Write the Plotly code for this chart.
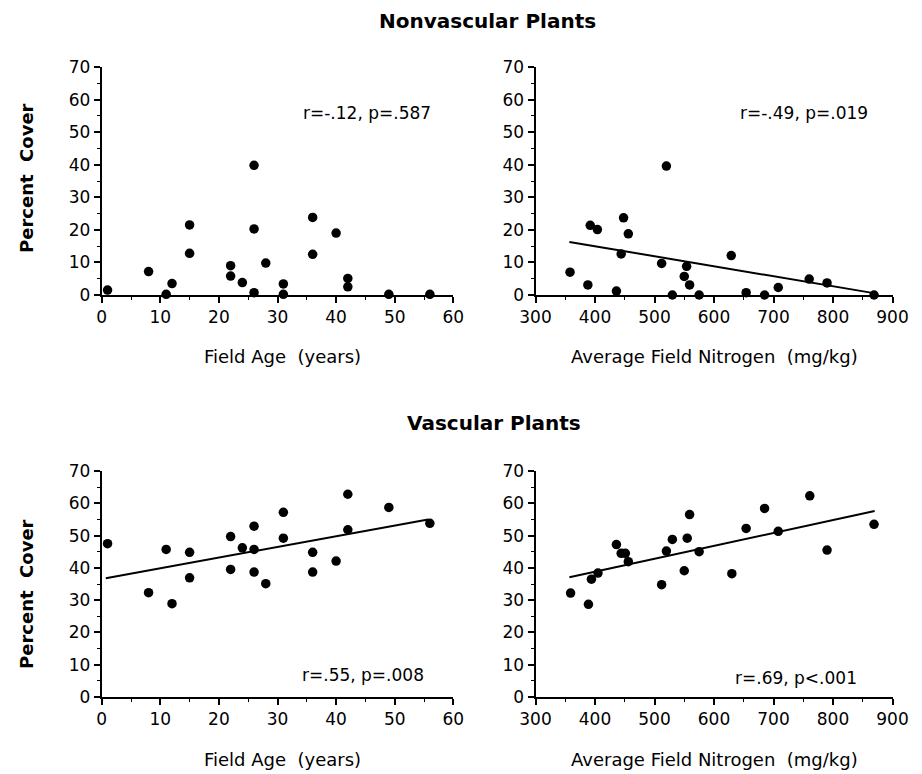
import plotly.graph_objects as go

# ---------------- data ----------------
field_age = [1, 8, 11, 12, 15, 15, 22, 22, 24, 26, 26, 26, 28, 31, 31, 36, 36, 40, 42, 42, 49, 56]
nonvasc_by_age = [1.5, 7.2, 0.2, 3.5, 21.5, 12.8, 9.0, 5.8, 3.8, 39.8, 20.3, 0.7, 9.8, 3.4, 0.2,
                  23.8, 12.5, 19.0, 5.1, 2.5, 0.2, 0.2]
vasc_age = [1, 8, 11, 12, 15, 15, 22, 22, 24, 26, 26, 26, 28, 31, 31, 36, 36, 40, 42, 42, 49, 56]
vasc_by_age = [47.5, 32.3, 45.7, 28.9, 44.8, 36.9, 49.7, 39.5, 46.2, 52.9, 45.7, 38.7, 35.1, 57.2,
               49.2, 44.8, 38.7, 42.1, 62.8, 51.8, 58.7, 53.8]

nitrogen_nv = [358, 388, 392, 404, 436, 444, 448, 456, 512, 520, 530, 550, 554, 559, 575, 629,
               654, 685, 708, 760, 790, 869]
nonvasc_by_n = [7.0, 3.1, 21.4, 20.1, 1.2, 12.6, 23.7, 18.8, 9.7, 39.6, 0.0, 5.7, 8.8, 3.1, 0.0,
                12.1, 0.7, 0.0, 2.3, 4.9, 3.7, 0.0]
nitrogen_v = [359, 389, 394, 405, 436, 444, 451, 456, 512, 520, 530, 550, 555, 559, 575, 630,
              654, 685, 708, 761, 790, 869]
vasc_by_n = [32.2, 28.7, 36.5, 38.4, 47.2, 44.5, 44.5, 41.9, 34.8, 45.2, 48.8, 39.1, 49.2, 56.5,
             45.0, 38.2, 52.2, 58.4, 51.3, 62.3, 45.5, 53.5]

# regression lines (end points)
fit_nonvasc_n_x = [357, 871]
fit_nonvasc_n_y = [16.3, 0.5]
fit_vasc_age_x = [0.7, 55.7]
fit_vasc_age_y = [36.8, 55.0]
fit_vasc_n_x = [357, 870]
fit_vasc_n_y = [37.1, 57.6]

stats_text = ["r=-.12, p=.587", "r=-.49, p=.019", "r=.55, p=.008", "r=.69, p<.001"]
panel_titles = ["Nonvascular Plants", "Vascular Plants"]
x_titles = ["Field Age\u00a0\u00a0(years)", "Average Field Nitrogen\u00a0\u00a0(mg/kg)"]
y_title = "Percent\u00a0\u00a0Cover"

FONT = "DejaVu Sans"
W, H = 922, 774

fig = go.Figure()

marker = dict(color="black", size=9.5)
line = dict(color="black", width=2)

# top-left
fig.add_trace(go.Scatter(x=field_age, y=nonvasc_by_age, mode="markers", marker=marker,
                         xaxis="x", yaxis="y", cliponaxis=False))
# top-right
fig.add_trace(go.Scatter(x=nitrogen_nv, y=nonvasc_by_n, mode="markers", marker=marker,
                         xaxis="x2", yaxis="y2", cliponaxis=False))
fig.add_trace(go.Scatter(x=fit_nonvasc_n_x, y=fit_nonvasc_n_y, mode="lines", line=line,
                         xaxis="x2", yaxis="y2", cliponaxis=False))
# bottom-left
fig.add_trace(go.Scatter(x=vasc_age, y=vasc_by_age, mode="markers", marker=marker,
                         xaxis="x3", yaxis="y3", cliponaxis=False))
fig.add_trace(go.Scatter(x=fit_vasc_age_x, y=fit_vasc_age_y, mode="lines", line=line,
                         xaxis="x3", yaxis="y3", cliponaxis=False))
# bottom-right
fig.add_trace(go.Scatter(x=nitrogen_v, y=vasc_by_n, mode="markers", marker=marker,
                         xaxis="x4", yaxis="y4", cliponaxis=False))
fig.add_trace(go.Scatter(x=fit_vasc_n_x, y=fit_vasc_n_y, mode="lines", line=line,
                         xaxis="x4", yaxis="y4", cliponaxis=False))

left_dom = [101.7 / W, 453.3 / W]
right_dom = [535.5 / W, 892.5 / W]
top_dom = [1 - 295 / H, 1 - 67 / H]
bot_dom = [1 - 697 / H, 1 - 471 / H]

tickfont = dict(family=FONT, size=17, color="black")


def xax(dom, rng, dtick, minor, anchor):
    return dict(domain=dom, range=rng, dtick=dtick, tick0=rng[0], anchor=anchor,
                automargin=False,
                showline=True, linecolor="black", linewidth=2, showgrid=False,
                zeroline=False, ticks="outside", ticklen=6, tickwidth=1.5,
                tickcolor="black", tickfont=tickfont,
                minor=dict(dtick=minor, ticks="outside", ticklen=3, tickwidth=1,
                           tickcolor="black", showgrid=False))


def yax(dom, anchor):
    return dict(domain=dom, range=[0, 70], dtick=10, tick0=0, anchor=anchor,
                automargin=False,
                showline=True, linecolor="black", linewidth=2, showgrid=False,
                zeroline=False, ticks="outside", ticklen=6, tickwidth=1.5,
                tickcolor="black", tickfont=tickfont,
                minor=dict(dtick=5, ticks="outside", ticklen=3, tickwidth=1,
                           tickcolor="black", showgrid=False))


def paper_note(text, px, py, size, bold=False, angle=0):
    f = dict(family=FONT, size=size, color="black")
    if bold:
        f["weight"] = "bold"
    return dict(text=text, x=px / W, y=1 - py / H, xref="paper", yref="paper",
                xanchor="center", yanchor="middle", textangle=angle,
                showarrow=False, font=f)


def stat_note(text, x, y, xref, yref):
    return dict(text=text, x=x, y=y, xref=xref, yref=yref, xanchor="right",
                yanchor="middle", showarrow=False,
                font=dict(family=FONT, size=17, color="black"))


annotations = [
    paper_note(panel_titles[0], 487, 21, 20, bold=True),
    paper_note(panel_titles[1], 494, 423, 20, bold=True),
    paper_note(x_titles[0], 282, 356, 18),
    paper_note(x_titles[1], 714, 356, 18),
    paper_note(x_titles[0], 282, 759, 18),
    paper_note(x_titles[1], 714, 759, 18),
    paper_note(y_title, 26, 178, 18, bold=True, angle=-90),
    paper_note(y_title, 26, 594, 18, bold=True, angle=-90),
    stat_note(stats_text[0], 56.5, 56, "x", "y"),
    stat_note(stats_text[1], 863, 56, "x2", "y2"),
    stat_note(stats_text[2], 55.4, 6.8, "x3", "y3"),
    stat_note(stats_text[3], 844, 5.9, "x4", "y4"),
]

fig.update_layout(
    width=W, height=H, margin=dict(l=0, r=0, t=0, b=0, autoexpand=False),
    paper_bgcolor="white", plot_bgcolor="white", showlegend=False,
    font=dict(family=FONT, color="black"),
    xaxis=xax(left_dom, [0, 60], 10, 5, "y"),
    yaxis=yax(top_dom, "x"),
    xaxis2=xax(right_dom, [300, 900], 100, 50, "y2"),
    yaxis2=yax(top_dom, "x2"),
    xaxis3=xax(left_dom, [0, 60], 10, 5, "y3"),
    yaxis3=yax(bot_dom, "x3"),
    xaxis4=xax(right_dom, [300, 900], 100, 50, "y4"),
    yaxis4=yax(bot_dom, "x4"),
    annotations=annotations,
)

fig.write_html("out.html")
